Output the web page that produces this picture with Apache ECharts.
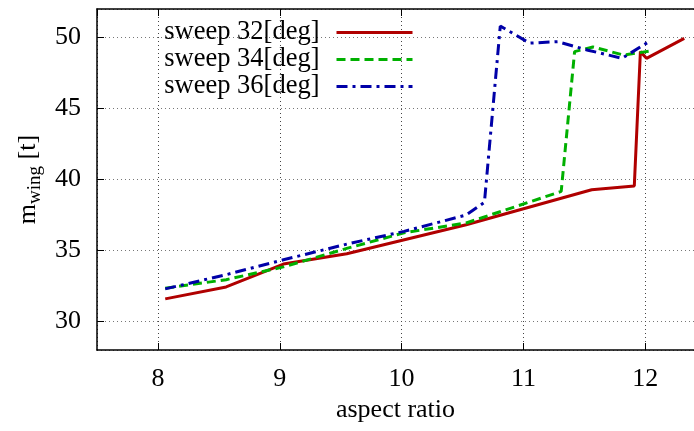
<!DOCTYPE html>
<html>
<head>
<meta charset="utf-8">
<script src="https://cdn.jsdelivr.net/npm/echarts@6/dist/echarts.min.js"></script>
<style>
  html, body { margin: 0; padding: 0; background: #fff; }
  #main { width: 694px; height: 431px; }
</style>
</head>
<body>
<div id="main"></div>
<script>
// aspect ratio / wing mass [t]
var sweep32X = [8.06, 8.56, 9.03, 9.55, 10.53, 11.56, 11.91, 11.96, 12.01, 12.32]
var sweep32Y = [31.6, 32.44, 34.05, 34.78, 36.82, 39.28, 39.55, 49.0, 48.53, 49.93]

var sweep34X = [8.06, 8.56, 9.03, 9.55, 10.02, 10.53, 11.31, 11.42, 11.57, 11.82, 12.05]
var sweep34Y = [32.35, 32.95, 33.85, 35.15, 36.25, 36.94, 39.16, 49.0, 49.33, 48.76, 49.05]

var sweep36X = [8.06, 8.56, 9.03, 9.55, 10.02, 10.53, 10.68, 10.81, 11.05, 11.28, 11.53, 11.81, 12.03]
var sweep36Y = [32.3, 33.3, 34.35, 35.45, 36.35, 37.5, 38.4, 50.8, 49.6, 49.7, 49.1, 48.53, 49.7]

var seriesNames = ['sweep 32[deg]', 'sweep 34[deg]', 'sweep 36[deg]']

function pairs(xs, ys) {
  return xs.map(function (x, i) { return [x, ys[i]] })
}

var font = 'Liberation Serif'
var gridDots = { type: [1, 3], color: '#444', width: 1 }

var myChart = echarts.init(document.getElementById('main'))
var option = {
  backgroundColor: '#fff',
  animation: false,
  grid: { left: 97, top: 9, right: 0, bottom: 81, containLabel: false },
  legend: {
    orient: 'vertical',
    right: 275,
    top: 14,
    align: 'right',
    itemWidth: 76,
    itemHeight: 14,
    itemGap: 0,
    itemStyle: { opacity: 0 },
    lineStyle: { width: 3 },
    textStyle: { fontFamily: font, fontSize: 26.5, color: '#000', lineHeight: 26, padding: [0, 12, 0, 0] },
    data: seriesNames
  },
  xAxis: [
    {
      type: 'value',
      min: 7.5,
      max: 12.4,
      splitNumber: 5,
      name: 'aspect ratio',
      nameLocation: 'middle',
      nameGap: 46,
      nameTextStyle: { fontFamily: font, fontSize: 26, color: '#000' },
      axisLine: { lineStyle: { color: '#000', width: 1.5 } },
      axisTick: { inside: true, length: 7, lineStyle: { color: '#000' } },
      axisLabel: { fontFamily: font, fontSize: 26, color: '#000', margin: 16, showMinLabel: false, showMaxLabel: false },
      splitLine: { show: true, lineStyle: gridDots }
    },
    {
      type: 'value',
      position: 'top',
      min: 7.5,
      max: 12.4,
      splitNumber: 5,
      axisLine: { show: true, lineStyle: { color: '#000', width: 1.5 } },
      axisTick: { show: true, inside: true, length: 7, lineStyle: { color: '#000' } },
      axisLabel: { show: false },
      splitLine: { show: false }
    }
  ],
  yAxis: {
    type: 'value',
    min: 28,
    max: 52,
    splitNumber: 5,
    name: 'm{sub|wing} [t]',
    nameLocation: 'middle',
    nameGap: 52,
    nameTextStyle: {
      fontFamily: font, fontSize: 26, color: '#000',
      rich: { sub: { fontFamily: font, fontSize: 19, color: '#000', verticalAlign: 'bottom', padding: [12, 0, 0, 0] } }
    },
    axisLine: { show: true, lineStyle: { color: '#000', width: 1.5 } },
    axisTick: { show: true, inside: true, length: 7, lineStyle: { color: '#000' } },
    axisLabel: { fontFamily: font, fontSize: 26, color: '#000', margin: 16, showMinLabel: false, showMaxLabel: false },
    splitLine: { show: true, lineStyle: { type: [1, 3], color: '#777', width: 1 } }
  },
  series: [
    {
      name: seriesNames[0],
      type: 'line',
      symbol: 'none',
      data: pairs(sweep32X, sweep32Y),
      lineStyle: { color: '#b00000', width: 3, type: 'solid' },
      itemStyle: { color: '#b00000' },
      z: 3
    },
    {
      name: seriesNames[1],
      type: 'line',
      symbol: 'none',
      data: pairs(sweep34X, sweep34Y),
      lineStyle: { color: '#00b000', width: 3, type: [9, 5] },
      itemStyle: { color: '#00b000' },
      z: 4
    },
    {
      name: seriesNames[2],
      type: 'line',
      symbol: 'none',
      data: pairs(sweep36X, sweep36Y),
      lineStyle: { color: '#0000a8', width: 3, type: [11, 5, 3, 5] },
      itemStyle: { color: '#0000a8' },
      z: 5
    }
  ]
}
myChart.setOption(option)
</script>
</body>
</html>
